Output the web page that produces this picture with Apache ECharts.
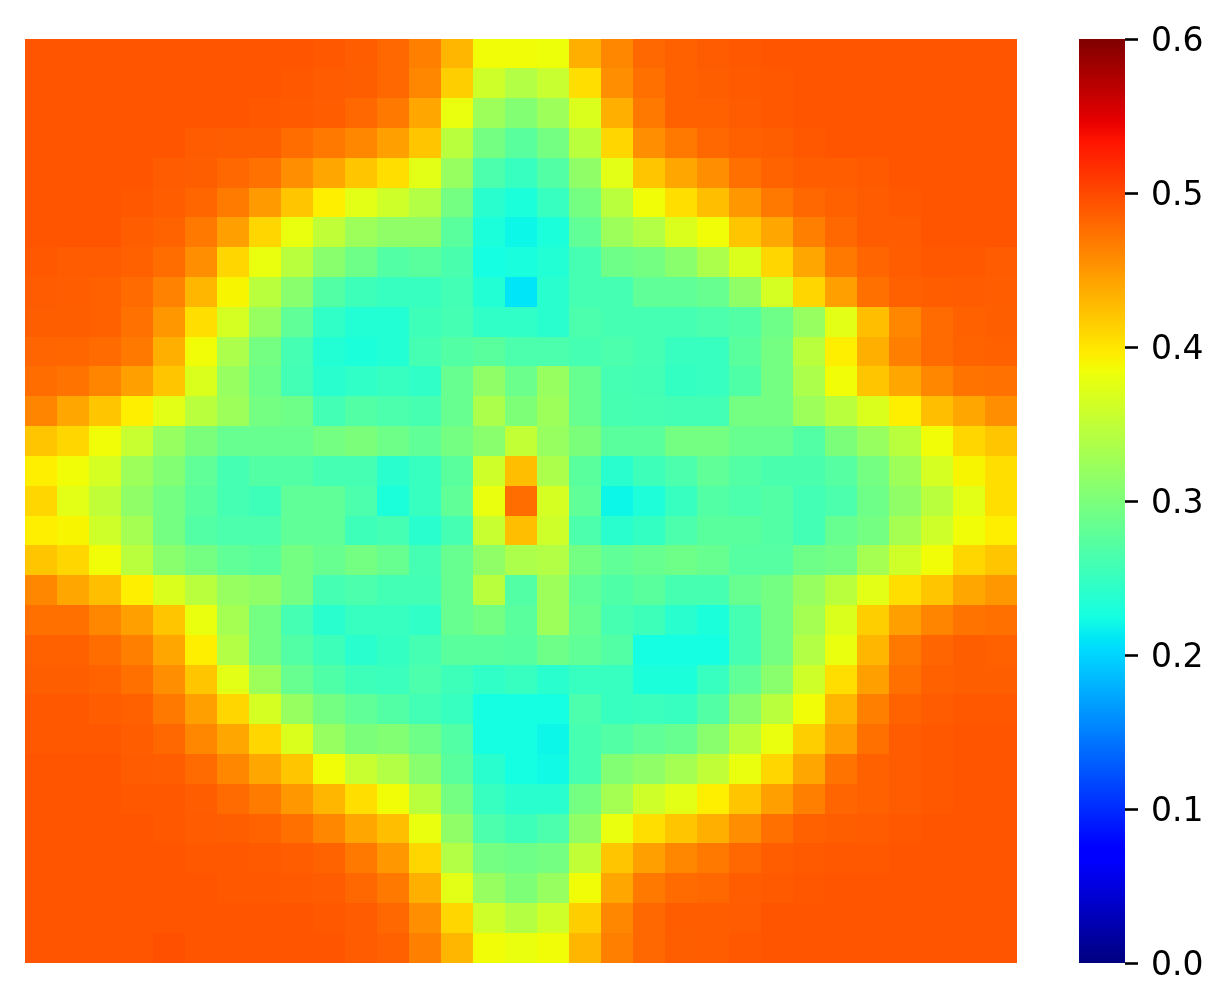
<!DOCTYPE html>
<html>
<head>
<meta charset="utf-8">
<title>heatmap</title>
<script src="https://cdn.jsdelivr.net/npm/echarts@6/dist/echarts.min.js"></script>
<style>
  html, body { margin: 0; padding: 0; background: #fff; }
  #main { width: 1229px; height: 1008px; }
</style>
</head>
<body>
<div id="main"></div>
<script>
// values, top row first
const row00 = [.492,.492,.492,.492,.492,.492,.492,.492,.492,.49,.487,.48,.465,.43,.385,.385,.383,.435,.46,.48,.485,.488,.49,.492,.492,.492,.492,.492,.492,.492,.492];
const row01 = [.492,.492,.492,.492,.492,.492,.492,.492,.49,.488,.486,.48,.46,.415,.36,.34,.355,.405,.455,.475,.485,.486,.489,.49,.492,.492,.492,.492,.492,.492,.492];
const row02 = [.492,.492,.492,.492,.492,.492,.492,.49,.489,.487,.48,.47,.44,.38,.325,.305,.325,.37,.435,.47,.485,.485,.488,.49,.492,.492,.492,.492,.492,.492,.492];
const row03 = [.492,.492,.492,.492,.492,.488,.486,.486,.477,.47,.46,.445,.42,.345,.295,.275,.295,.345,.41,.455,.47,.48,.485,.486,.49,.492,.492,.492,.492,.492,.492];
const row04 = [.492,.492,.492,.492,.488,.486,.48,.474,.455,.44,.42,.405,.375,.32,.265,.25,.27,.315,.375,.42,.44,.455,.475,.483,.487,.487,.489,.492,.492,.492,.492];
const row05 = [.492,.492,.492,.49,.487,.481,.468,.448,.42,.395,.375,.36,.34,.295,.24,.23,.25,.295,.345,.385,.405,.425,.45,.47,.48,.485,.488,.49,.492,.492,.492];
const row06 = [.492,.492,.492,.487,.483,.47,.445,.41,.38,.35,.325,.315,.315,.275,.23,.22,.23,.28,.325,.34,.37,.385,.42,.44,.465,.48,.488,.488,.492,.492,.492];
const row07 = [.49,.488,.488,.485,.477,.455,.41,.38,.345,.31,.29,.27,.275,.263,.225,.228,.235,.26,.29,.295,.31,.335,.37,.41,.44,.47,.482,.487,.49,.49,.488];
const row08 = [.488,.487,.485,.478,.463,.43,.39,.345,.31,.27,.255,.25,.25,.258,.235,.21,.24,.26,.26,.28,.28,.285,.315,.365,.41,.445,.475,.484,.487,.488,.487];
const row09 = [.486,.486,.485,.474,.45,.405,.365,.32,.28,.245,.235,.235,.255,.26,.245,.245,.24,.265,.26,.26,.26,.265,.27,.29,.32,.375,.425,.46,.478,.485,.486];
const row10 = [.482,.481,.478,.47,.435,.385,.335,.295,.26,.235,.23,.235,.26,.27,.275,.265,.265,.26,.265,.26,.25,.25,.275,.295,.345,.395,.435,.465,.478,.483,.485];
const row11 = [.477,.473,.462,.445,.42,.37,.32,.29,.258,.24,.245,.25,.245,.285,.315,.288,.32,.285,.26,.258,.248,.25,.268,.295,.335,.385,.42,.44,.46,.473,.474];
const row12 = [.462,.44,.42,.395,.375,.345,.325,.295,.29,.258,.27,.265,.262,.285,.335,.302,.325,.285,.262,.26,.258,.258,.295,.295,.325,.345,.37,.395,.425,.44,.455];
const row13 = [.42,.41,.385,.355,.32,.30,.285,.285,.285,.295,.30,.29,.28,.295,.31,.352,.32,.30,.275,.275,.295,.295,.285,.285,.27,.30,.32,.345,.385,.41,.42];
const row14 = [.395,.385,.365,.325,.305,.28,.26,.27,.27,.26,.26,.24,.25,.275,.36,.425,.335,.275,.24,.255,.265,.28,.27,.263,.263,.272,.295,.325,.365,.39,.405];
const row15 = [.41,.375,.35,.315,.295,.275,.26,.255,.28,.28,.265,.23,.25,.28,.38,.477,.365,.28,.22,.232,.25,.27,.265,.27,.258,.265,.29,.315,.345,.375,.405];
const row16 = [.395,.39,.36,.33,.295,.27,.265,.265,.28,.28,.255,.26,.24,.26,.355,.425,.36,.265,.24,.248,.265,.275,.275,.27,.258,.285,.295,.33,.36,.385,.395];
const row17 = [.42,.41,.385,.345,.31,.295,.28,.275,.295,.285,.295,.285,.26,.285,.315,.335,.34,.295,.28,.285,.29,.285,.272,.272,.29,.295,.33,.36,.385,.41,.42];
const row18 = [.46,.44,.425,.395,.37,.345,.32,.315,.295,.26,.265,.258,.258,.285,.345,.27,.325,.28,.268,.275,.262,.262,.285,.295,.32,.345,.375,.405,.42,.44,.45];
const row19 = [.475,.475,.46,.445,.42,.38,.33,.295,.26,.24,.25,.25,.245,.285,.295,.275,.325,.285,.262,.255,.24,.23,.26,.295,.33,.37,.415,.445,.462,.473,.475];
const row20 = [.485,.484,.477,.465,.44,.395,.34,.295,.27,.255,.24,.248,.26,.275,.275,.273,.29,.28,.27,.225,.225,.225,.26,.295,.34,.38,.43,.47,.482,.486,.485];
const row21 = [.486,.486,.483,.475,.455,.42,.375,.325,.285,.268,.255,.252,.265,.255,.245,.25,.24,.25,.25,.23,.23,.25,.28,.31,.36,.405,.445,.475,.485,.486,.486];
const row22 = [.49,.49,.487,.485,.47,.445,.41,.365,.32,.295,.28,.27,.258,.25,.225,.225,.225,.265,.25,.252,.25,.27,.31,.345,.385,.43,.465,.483,.488,.49,.49];
const row23 = [.49,.49,.49,.487,.48,.46,.44,.41,.37,.32,.30,.305,.29,.27,.225,.225,.22,.262,.27,.28,.285,.31,.345,.38,.415,.445,.475,.488,.49,.492,.492];
const row24 = [.492,.492,.492,.488,.487,.478,.46,.44,.42,.385,.355,.34,.31,.275,.24,.225,.222,.262,.305,.315,.33,.35,.38,.41,.44,.472,.484,.488,.49,.492,.492];
const row25 = [.492,.492,.492,.49,.49,.487,.478,.468,.45,.43,.405,.385,.345,.295,.25,.24,.24,.295,.33,.36,.375,.395,.42,.445,.465,.482,.485,.488,.49,.492,.492];
const row26 = [.492,.492,.492,.492,.49,.488,.486,.483,.475,.46,.44,.425,.38,.315,.265,.255,.265,.315,.38,.405,.42,.435,.455,.475,.484,.486,.488,.49,.492,.492,.492];
const row27 = [.492,.492,.492,.492,.492,.49,.49,.489,.487,.483,.47,.45,.41,.34,.295,.29,.295,.35,.42,.445,.46,.47,.48,.487,.489,.49,.49,.492,.492,.492,.492];
const row28 = [.492,.492,.492,.492,.492,.492,.49,.49,.489,.488,.48,.47,.435,.375,.32,.302,.32,.385,.44,.47,.478,.48,.487,.489,.491,.492,.492,.492,.492,.492,.492];
const row29 = [.492,.492,.492,.492,.492,.492,.492,.492,.492,.49,.488,.48,.455,.41,.36,.342,.36,.415,.46,.48,.487,.487,.488,.492,.492,.492,.492,.492,.492,.492,.492];
const row30 = [.492,.492,.492,.492,.495,.492,.492,.492,.492,.492,.488,.484,.465,.43,.385,.38,.385,.43,.465,.48,.486,.487,.49,.492,.492,.492,.492,.492,.492,.492,.492];
const rows = [row00,row01,row02,row03,row04,row05,row06,row07,row08,row09,row10,row11,row12,row13,row14,row15,
  row16,row17,row18,row19,row20,row21,row22,row23,row24,row25,row26,row27,row28,row29,row30];

const colNames = row00.map((v, i) => String(i));
const rowNames = rows.map((v, i) => String(i));
const barMin = 0;
const barMax = 0.6;
const barStep = 0.1;

// matplotlib jet breakpoints
const jetR = [[0, 0], [.35, 0], [.66, 1], [.89, 1], [1, .5]];
const jetG = [[0, 0], [.125, 0], [.375, 1], [.64, 1], [.91, 0], [1, 0]];
const jetB = [[0, .5], [.11, 1], [.34, 1], [.65, 0], [1, 0]];

function lerpStops(stops, t) {
  for (let i = 1; i < stops.length; i++) {
    if (t <= stops[i][0]) {
      const a = stops[i - 1];
      const b = stops[i];
      return a[1] + (b[1] - a[1]) * (t - a[0]) / (b[0] - a[0]);
    }
  }
  return stops[stops.length - 1][1];
}

const jetColors = [];
const barStops = [];
for (let i = 0; i <= 200; i++) {
  const t = i / 200;
  const r = Math.round(lerpStops(jetR, t) * 255);
  const g = Math.round(lerpStops(jetG, t) * 255);
  const b = Math.round(lerpStops(jetB, t) * 255);
  const color = "rgb(" + r + "," + g + "," + b + ")";
  jetColors.push(color);
  barStops.push({ offset: t, color: color });
}

const cells = [];
rows.forEach((row, y) => {
  row.forEach((v, x) => cells.push([x, y, v]));
});

// snap cell edges to whole pixels so no seams show between rows
function renderCell(params, api) {
  const center = api.coord([api.value(0), api.value(1)]);
  const size = api.size([1, 1]);
  const x0 = Math.round(center[0] - size[0] / 2);
  const x1 = Math.round(center[0] + size[0] / 2);
  const y0 = Math.round(center[1] - size[1] / 2 - 0.4);
  const y1 = Math.round(center[1] + size[1] / 2 - 0.4);
  return {
    type: "rect",
    shape: { x: x0, y: y0, width: x1 - x0, height: y1 - y0 },
    style: { fill: api.visual("color") },
  };
}

const chart = echarts.init(document.getElementById("main"), null, { renderer: "canvas" });
chart.setOption({
  animation: false,
  backgroundColor: "#fff",
  grid: [
    { left: 25, top: 39, width: 992, height: 924 },
    {
      left: 1079,
      top: 39,
      width: 46,
      height: 924,
      show: true,
      borderWidth: 0,
      backgroundColor: new echarts.graphic.LinearGradient(0, 1, 0, 0, barStops),
    },
  ],
  xAxis: [
    { type: "category", data: colNames, show: false, gridIndex: 0 },
    { type: "value", show: false, gridIndex: 1, min: 0, max: 1 },
  ],
  yAxis: [
    { type: "category", data: rowNames, show: false, inverse: true, gridIndex: 0 },
    {
      type: "value",
      gridIndex: 1,
      position: "right",
      min: barMin,
      max: barMax,
      interval: barStep,
      splitLine: { show: false },
      axisLine: { show: false, onZero: false },
      axisTick: { show: true, length: 13, lineStyle: { color: "#000", width: 2.6 } },
      axisLabel: {
        margin: 26,
        formatter: (v) => "{t|" + v.toFixed(1) + "}",
        rich: {
          t: {
            color: "#000",
            fontFamily: "DejaVu Sans",
            fontSize: 33,
            padding: [6, 0, 0, 0],
          },
        },
      },
    },
  ],
  visualMap: {
    type: "continuous",
    show: false,
    min: barMin,
    max: barMax,
    dimension: 2,
    seriesIndex: 0,
    inRange: { color: jetColors },
  },
  series: [
    {
      type: "custom",
      xAxisIndex: 0,
      yAxisIndex: 0,
      data: cells,
      encode: { x: 0, y: 1 },
      renderItem: renderCell,
      silent: true,
      progressive: 0,
    },
  ],
});
</script>
</body>
</html>
